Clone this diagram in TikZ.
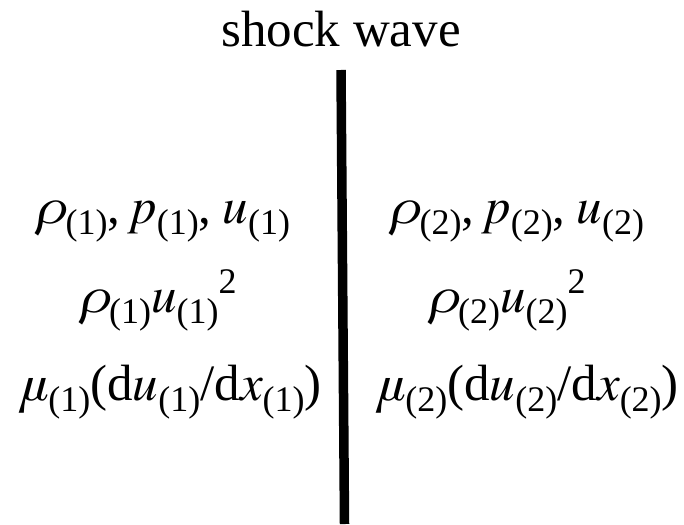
\documentclass[tikz,border=0pt]{standalone}
\usepackage{fontspec}
\setmainfont{Liberation Serif}
\newfontfamily\myit{texgyretermes-italic.otf}
\newcommand\mysb[1]{\raisebox{-11pt}{\fontsize{36}{36}\selectfont(#1)}}
\newcommand\mysp[1]{\raisebox{19pt}{\fontsize{36}{36}\selectfont #1}}
\newcommand\mi[1]{{\myit #1}}
\begin{document}
\begin{tikzpicture}[x=1pt,y=-1pt,
  lbl/.style={anchor=base,inner sep=0pt,font=\fontsize{51}{60}\selectfont},
  ttl/.style={anchor=base,inner sep=0pt,font=\fontsize{51}{60}\selectfont}]
\useasboundingbox (0,0) rectangle (684,524);
\node[ttl] (title) at (341,47) {shock wave};
\coordinate (top) at (341,70);
\coordinate (bot) at (344.5,524);
\draw[line width=9.5pt] (top) -- (bot);
\node[lbl] (l1) at (163,223) {\mi{ρ}\mysb{1},\hspace{11pt}\mi{p}\mysb{1},\hspace{11pt}\mi{u}\mysb{1}};
\node[lbl] (l2) at (158,312) {\mi{ρ}\mysb{1}\mi{u}\mysb{1}\mysp{2}};
\node[lbl] (l3) at (170,400) {\mi{μ}\mysb{1}(d\mi{u}\mysb{1}/d\mi{x}\mysb{1})};
\node[lbl] (r1) at (517,223) {\mi{ρ}\mysb{2},\hspace{11pt}\mi{p}\mysb{2},\hspace{11pt}\mi{u}\mysb{2}};
\node[lbl] (r2) at (507,312) {\mi{ρ}\mysb{2}\mi{u}\mysb{2}\mysp{2}};
\node[lbl] (r3) at (527,400) {\mi{μ}\mysb{2}(d\mi{u}\mysb{2}/d\mi{x}\mysb{2})};
\end{tikzpicture}
\end{document}
